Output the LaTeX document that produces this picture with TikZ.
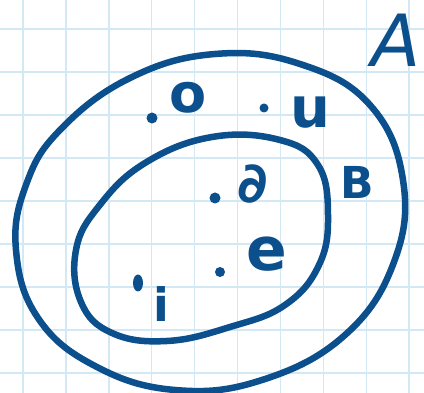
\documentclass[tikz,border=0pt]{standalone}
\usepackage{fontspec}
\setmainfont{DejaVu Sans}
\definecolor{ink}{HTML}{0B4F8C}
\definecolor{gridc}{HTML}{D3E8F5}
\begin{document}
\begin{tikzpicture}[x=1pt,y=-1pt,
  setline/.style={draw=ink,line width=6.5pt,line cap=round,line join=round},
  lbl/.style={text=ink,inner sep=0pt,anchor=center},
  dotmark/.style={fill=ink}]
\useasboundingbox (0,0) rectangle (424,393);
\fill[white] (0,0) rectangle (424,393);
% grid
\foreach \gx in {23,65.9,108.8,151.7,194.6,237.5,280.4,323.3,366.2,409.1}
  \draw[gridc,line width=1.4pt] (\gx,0) -- (\gx,393);
\foreach \gy in {29,72,115,158,201,244,287,330,373}
  \draw[gridc,line width=1.4pt] (0,\gy) -- (424,\gy);
% outer set A
\draw[setline] plot[smooth cycle,tension=0.7] coordinates {
  (215,54) (300,64) (370,105) (403,180) (394,262) (345,335) (262,380) (175,390)
  (95,366) (38,318) (16,250) (26,185) (60,130) (130,78)};
% inner set B
\draw[setline] plot[smooth cycle,tension=0.7] coordinates {
  (212,137) (280,140) (318,165) (328,215) (319,265) (285,305) (230,327) (167,341)
  (112,333) (81,302) (76,250) (99,206) (145,163)};
% labels
\node[lbl,font=\fontsize{72}{72}\selectfont\itshape] (A) at (396,40) {A};
\node[lbl,font=\bfseries\fontsize{44}{44}\selectfont] (B) at (357,182) {B};
\node[lbl,font=\bfseries\fontsize{54}{54}\selectfont] (o) at (188,98) {o};
\node[lbl,font=\bfseries\fontsize{56}{56}\selectfont] (u) at (310,113) {u};
\node[lbl,font=\bfseries\fontsize{56}{56}\selectfont] (a) at (253,184) {∂};
\node[lbl,font=\bfseries\fontsize{60}{60}\selectfont] (e) at (267,254) {e};
\node[lbl,font=\bfseries\fontsize{46}{46}\selectfont] (i) at (161,304) {i};
% dots
\fill[dotmark] (152,118) circle (5.5pt);
\fill[dotmark] (264,108) circle (4.5pt);
\fill[dotmark] (215,198) circle (5.5pt);
\fill[dotmark] (220,272) circle (5pt);
\fill[dotmark] (138,283) ellipse (5pt and 8.5pt);
\end{tikzpicture}
\end{document}
